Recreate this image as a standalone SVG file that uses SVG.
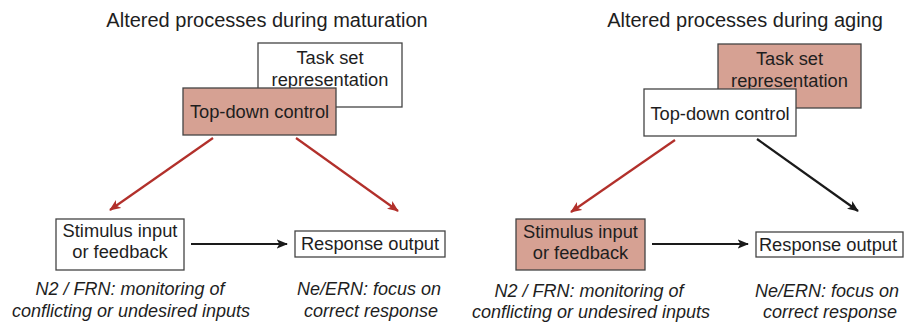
<svg xmlns="http://www.w3.org/2000/svg" width="904" height="327" viewBox="0 0 904 327">
<style>
text{font-family:"Liberation Sans",Arial,sans-serif;fill:#1e1e1e;text-anchor:middle}
.t{font-size:20px}
.n{font-size:18.3px}
.i{font-size:18px;font-style:italic}
.b{stroke:#444;stroke-width:1.3}
.w{fill:#fff}
.f{fill:#d6a193}
.red{stroke:#b2302b;stroke-width:2.2;fill:none}
.blk{stroke:#1a1a1a;stroke-width:2.2;fill:none}
</style>
<defs>
<marker id="ar" viewBox="0 0 12 10" refX="11" refY="5" markerWidth="5.2" markerHeight="4.4" orient="auto" markerUnits="strokeWidth"><path d="M0,0 L12,5 L0,10 L3,5 Z" fill="#b2302b"/></marker>
<marker id="ab" viewBox="0 0 12 10" refX="11" refY="5" markerWidth="5.2" markerHeight="4.4" orient="auto" markerUnits="strokeWidth"><path d="M0,0 L12,5 L0,10 L3,5 Z" fill="#1a1a1a"/></marker>
</defs>
<text class="t" x="267" y="27">Altered processes during maturation</text>
<text class="t" x="745" y="27">Altered processes during aging</text>
<g id="L-task"><rect class="b w" x="258" y="43" width="144" height="64"/><text class="n" x="330" y="64">Task set</text><text class="n" x="330" y="86">representation</text></g>
<g id="L-top"><rect class="b f" x="183" y="88" width="153" height="47"/><text class="n" x="259.5" y="118">Top-down control</text></g>
<g id="L-stim"><rect class="b w" x="56" y="219" width="128" height="51"/><text class="n" x="120" y="237">Stimulus input</text><text class="n" x="120" y="258">or feedback</text></g>
<g id="L-resp"><rect class="b w" x="295" y="231" width="150" height="26"/><text class="n" x="370" y="250">Response output</text></g>
<g id="R-task"><rect class="b f" x="718" y="44" width="143" height="64"/><text class="n" x="789.5" y="65">Task set</text><text class="n" x="789.5" y="87">representation</text></g>
<g id="R-top"><rect class="b w" x="644" y="89" width="152" height="47"/><text class="n" x="720" y="120">Top-down control</text></g>
<g id="R-stim"><rect class="b f" x="516" y="219" width="129" height="51"/><text class="n" x="580.5" y="238">Stimulus input</text><text class="n" x="580.5" y="259">or feedback</text></g>
<g id="R-resp"><rect class="b w" x="756" y="232" width="147" height="25"/><text class="n" x="828" y="251">Response output</text></g>
<g id="labels">
<text class="i" x="130" y="295">N2 / FRN: monitoring of</text>
<text class="i" x="131" y="317">conflicting or undesired inputs</text>
<text class="i" x="369" y="295">Ne/ERN: focus on</text>
<text class="i" x="371" y="317">correct response</text>
<text class="i" x="589" y="297">N2 / FRN: monitoring of</text>
<text class="i" x="591" y="318">conflicting or undesired inputs</text>
<text class="i" x="827" y="297">Ne/ERN: focus on</text>
<text class="i" x="830" y="318">correct response</text>
</g>
<g id="connectors">
<line class="red" x1="213" y1="138" x2="110" y2="210" marker-end="url(#ar)"/>
<line class="red" x1="296" y1="138" x2="398" y2="211" marker-end="url(#ar)"/>
<line class="blk" x1="191" y1="244" x2="287" y2="244" marker-end="url(#ab)"/>
<line class="red" x1="675" y1="140" x2="571" y2="212" marker-end="url(#ar)"/>
<line class="blk" x1="757" y1="139" x2="858" y2="211" marker-end="url(#ab)"/>
<line class="blk" x1="652" y1="244" x2="748" y2="244" marker-end="url(#ab)"/>
</g>
</svg>
